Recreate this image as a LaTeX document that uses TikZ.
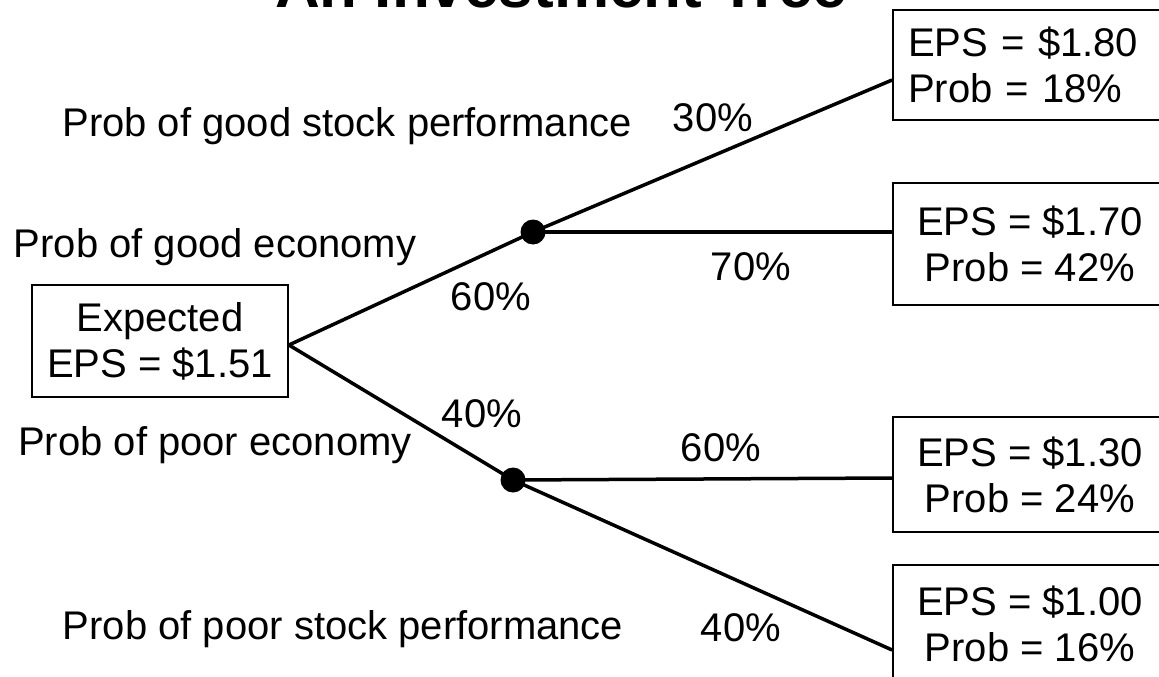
\documentclass[tikz,border=0pt]{standalone}
\usepackage{fontspec}
\setmainfont{Liberation Sans}
\begin{document}
\begin{tikzpicture}[x=1pt,y=-1pt,
  lbl/.style={font=\fontsize{40}{46}\selectfont, inner sep=0pt, anchor=base},
  boxn/.style={draw, line width=1.8pt, font=\fontsize{40}{46}\selectfont, align=center, inner sep=0pt},
  conn/.style={line width=3.5pt},
  dotn/.style={circle, fill, inner sep=0pt, minimum size=25pt}]
\useasboundingbox (0,0) rectangle (1159,677);
\clip (0,0) rectangle (1159,677);
% title (cut at top, as in the reference)
\node[font=\bfseries\fontsize{62}{70}\selectfont, anchor=base, inner sep=0pt] (title) at (561,8) {An Investment Tree};
% boxes
\node[boxn, minimum width=256pt, minimum height=112pt] (e) at (160,341) {Expected\\EPS = \$1.51};
\node[boxn, minimum width=274pt, minimum height=110pt, text width=244pt, align=left] (b1) at (1030,65) {EPS = \$1.80\\Prob = 18\%};
\node[boxn, minimum width=274pt, minimum height=122pt] (b2) at (1030,244) {EPS = \$1.70\\Prob = 42\%};
\node[boxn, minimum width=274pt, minimum height=115pt] (b3) at (1030,474.5) {EPS = \$1.30\\Prob = 24\%};
\node[boxn, minimum width=274pt, minimum height=118pt] (b4) at (1030,624) {EPS = \$1.00\\Prob = 16\%};
% chance nodes
\node[dotn] (d1) at (533,232) {};
\node[dotn] (d2) at (513,480) {};
% connectors
\draw[conn] ([yshift=-4pt]e.east) -- (d1.center);
\draw[conn] ([yshift=-4pt]e.east) -- (d2.center);
\draw[conn] (d1.center) -- ([yshift=-15pt]b1.west);
\draw[conn] (d1.center) -- ([yshift=12pt]b2.west);
\draw[conn] (d2.center) -- ([yshift=-3.5pt]b3.west);
\draw[conn] (d2.center) -- ([yshift=-26pt]b4.west);
% labels
\node[lbl] (l1) at (347,136) {Prob of good stock performance};
\node[lbl] (p30) at (713,131) {30\%};
\node[lbl] (l2) at (215,257) {Prob of good economy};
\node[lbl] (p70) at (751,280) {70\%};
\node[lbl] (p60a) at (491,310) {60\%};
\node[lbl] (p40a) at (482,427) {40\%};
\node[lbl] (l3) at (215,455) {Prob of poor economy};
\node[lbl] (p60b) at (721,461) {60\%};
\node[lbl] (l4) at (343,639) {Prob of poor stock performance};
\node[lbl] (p40b) at (741,641) {40\%};
\end{tikzpicture}
\end{document}
